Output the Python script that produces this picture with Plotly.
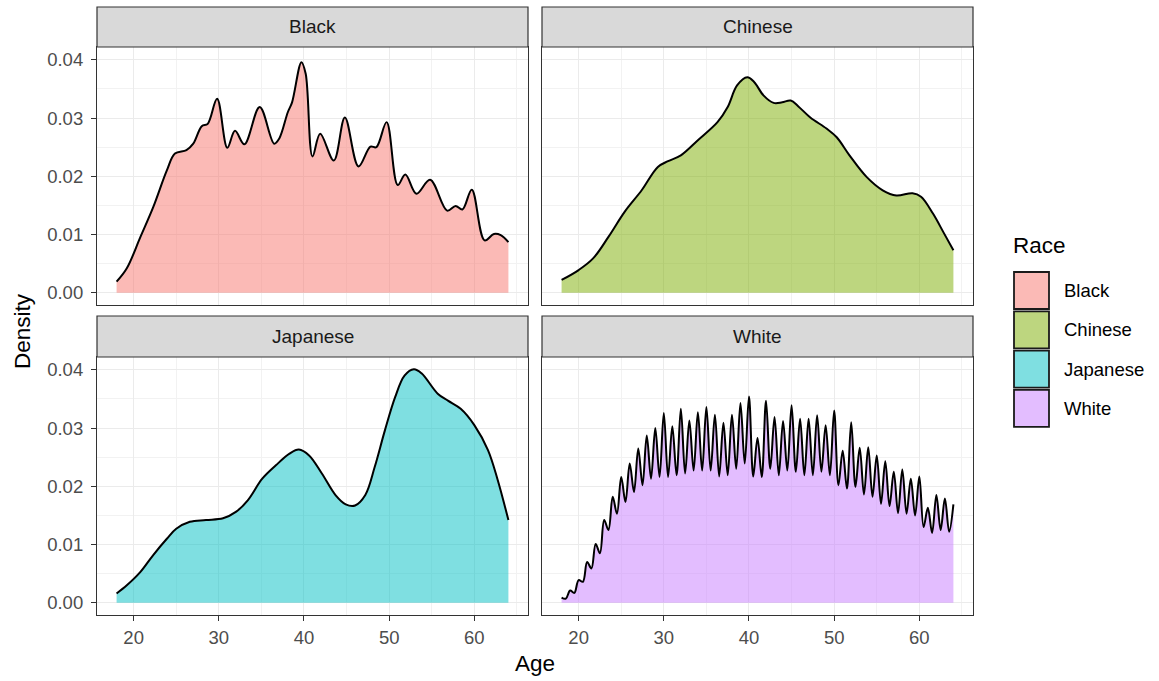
import plotly.graph_objects as go

# ---------------- data ----------------
races = ["Black", "Chinese", "Japanese", "White"]
race_colors = ["#F8766D", "#7CAE00", "#00BFC4", "#C77CFF"]

black_age = [18, 19.2, 20.8, 22.3, 23.9, 24.85, 26.2, 27, 28, 28.7, 29.8, 31, 31.9, 33,
             34.8, 36.5, 37.1, 38.1, 38.6, 39.7, 40.2, 41, 41.9, 43.5, 44.8, 46.4, 47.8,
             48.5, 49.7, 51, 51.9, 53.2, 54.8, 56.8, 57.8, 58.6, 59.7, 61.2, 62.3, 63.1, 64]
black_density = [0.0019, 0.0042, 0.0096, 0.0147, 0.0210, 0.0239, 0.0245, 0.0256, 0.0286,
                 0.0290, 0.0333, 0.0249, 0.0278, 0.0255, 0.0319, 0.0256, 0.0265, 0.0310,
                 0.0327, 0.0396, 0.0376, 0.0234, 0.0273, 0.0227, 0.0301, 0.0217, 0.0251,
                 0.0250, 0.0293, 0.0185, 0.0203, 0.0170, 0.0194, 0.0141, 0.0149, 0.0143,
                 0.0177, 0.0090, 0.0101, 0.0099, 0.0087]

chinese_age = [18, 20, 21.7, 23.5, 25.4, 27.4, 29.3, 30.5, 32, 34, 36.3, 37.5, 38.6, 39.8,
               40.6, 41.7, 42.9, 43.9, 44.9, 45.8, 47.2, 49.1, 50.3, 51.8, 53.8, 55.7, 57.3,
               59.2, 60.2, 61.6, 62.9, 64]
chinese_density = [0.0022, 0.0039, 0.0059, 0.0096, 0.0139, 0.0176, 0.0216, 0.0226, 0.0236,
                   0.0262, 0.0293, 0.0319, 0.0356, 0.0370, 0.0362, 0.0339, 0.0326, 0.0327,
                   0.0330, 0.0320, 0.0301, 0.0282, 0.0267, 0.0236, 0.0199, 0.0176, 0.0167,
                   0.0171, 0.0165, 0.0136, 0.0102, 0.0073]

japanese_age = [18, 19.2, 20.8, 22.3, 23.9, 25, 26.6, 28.5, 30.5, 32, 33.4, 35.1, 36.7, 38.3,
                39.4, 40.6, 42.1, 43.7, 44.9, 46, 47.2, 48.3, 49.5, 50.7, 51.8, 52.9, 53.8,
                55.7, 56.9, 58.4, 60, 61.6, 62.7, 64]
japanese_density = [0.0016, 0.0030, 0.0053, 0.0082, 0.0110, 0.0127, 0.0139, 0.0142, 0.0145,
                    0.0156, 0.0176, 0.0213, 0.0236, 0.0256, 0.0263, 0.0253, 0.0222, 0.0185,
                    0.0169, 0.0167, 0.0185, 0.0233, 0.0296, 0.0353, 0.0390, 0.0401, 0.0394,
                    0.0359, 0.0347, 0.0333, 0.0305, 0.0262, 0.0213, 0.0142]

white_age = [18, 18.5, 19, 19.5, 20, 20.5, 21, 21.5, 22, 22.5, 23, 23.5, 24, 24.5, 25, 25.5,
             26, 26.5, 27, 27.5, 28, 28.5, 29, 29.5, 30, 30.5, 31, 31.5, 32, 32.5, 33, 33.5,
             34, 34.5, 35, 35.5, 36, 36.5, 37, 37.5, 38, 38.5, 39, 39.5, 40, 40.5, 41, 41.5,
             42, 42.5, 43, 43.5, 44, 44.5, 45, 45.5, 46, 46.5, 47, 47.5, 48, 48.5, 49, 49.5,
             50, 50.5, 51, 51.5, 52, 52.5, 53, 53.5, 54, 54.5, 55, 55.5, 56, 56.5, 57, 57.5,
             58, 58.5, 59, 59.5, 60, 60.5, 61, 61.5, 62, 62.5, 63, 63.5, 64]
white_density = [0.0009, 0.0007, 0.0021, 0.0017, 0.0039, 0.0036, 0.0070, 0.0059, 0.0101,
                 0.0085, 0.0142, 0.0125, 0.0182, 0.0153, 0.0216, 0.0173, 0.0239, 0.0190,
                 0.0265, 0.0202, 0.0287, 0.0213, 0.0300, 0.0216, 0.0326, 0.0216, 0.0303,
                 0.0219, 0.0333, 0.0222, 0.0313, 0.0227, 0.0327, 0.0227, 0.0336, 0.0227,
                 0.0323, 0.0217, 0.0309, 0.0219, 0.0323, 0.0230, 0.0343, 0.0239, 0.0354,
                 0.0217, 0.0283, 0.0216, 0.0347, 0.0230, 0.0319, 0.0219, 0.0312, 0.0227,
                 0.0339, 0.0225, 0.0316, 0.0219, 0.0316, 0.0219, 0.0322, 0.0225, 0.0305,
                 0.0219, 0.0330, 0.0202, 0.0261, 0.0196, 0.0310, 0.0199, 0.0266, 0.0186,
                 0.0267, 0.0182, 0.0253, 0.0170, 0.0243, 0.0166, 0.0225, 0.0154, 0.0229,
                 0.0153, 0.0213, 0.0150, 0.0217, 0.0130, 0.0163, 0.0120, 0.0185, 0.0125,
                 0.0179, 0.0122, 0.0169]

x_ticks = [20, 30, 40, 50, 60]
y_ticks = [0.00, 0.01, 0.02, 0.03, 0.04]
x_title = "Age"
y_title = "Density"
legend_title = "Race"

# ---------------- layout helpers ----------------
W, H = 1159, 681
FONT = "Liberation Sans, Arial, sans-serif"


def px(x):
    return x / W


def py(y):
    return 1 - y / H


def rgba(hx, a):
    hx = hx.lstrip("#")
    r, g, b = int(hx[0:2], 16), int(hx[2:4], 16), int(hx[4:6], 16)
    return f"rgba({r},{g},{b},{a})"


# panel boxes in pixels: (left, right, top, bottom, strip top)
panels = [
    (97, 528, 47, 305, 7),
    (542, 973, 47, 305, 7),
    (97, 528, 357, 615, 316),
    (542, 973, 357, 615, 316),
]
series = [
    (black_age, black_density),
    (chinese_age, chinese_density),
    (japanese_age, japanese_density),
    (white_age, white_density),
]

fig = go.Figure()
shapes = []
annotations = []

for i, (race, col, (ages, dens), box) in enumerate(zip(races, race_colors, series, panels)):
    ax = "" if i == 0 else str(i + 1)
    fig.add_trace(go.Scatter(
        x=ages, y=dens, xaxis="x" + ax, yaxis="y" + ax,
        mode="lines", fill="tozeroy", fillcolor=rgba(col, 0.5),
        line=dict(color="black", width=2, shape="spline", smoothing=1.0),
        showlegend=False, hoverinfo="skip",
    ))
    l, r, t, b, st = box
    bottom_row = i >= 2
    left_col = i % 2 == 0
    fig.layout["xaxis" + ax] = dict(
        domain=[px(l), px(r)], anchor="y" + ax, range=[15.7, 66.3],
        tickvals=x_ticks, showticklabels=bottom_row, ticks="outside" if bottom_row else "",
        ticklen=5, tickwidth=1.2, tickcolor="#333333", ticklabelstandoff=1,
        tickfont=dict(family=FONT, size=18.5, color="#4D4D4D"),
        showgrid=True, gridcolor="#EBEBEB", gridwidth=1.4,
        minor=dict(tickvals=[15, 25, 35, 45, 55, 65], showgrid=True, gridcolor="#F2F2F2", gridwidth=0.8),
        showline=True, linecolor="#333333", linewidth=1.2, mirror=True, zeroline=False,
    )
    fig.layout["yaxis" + ax] = dict(
        domain=[py(b), py(t)], anchor="x" + ax, range=[-0.0021, 0.0422],
        tickvals=y_ticks, tickformat=".2f", showticklabels=left_col,
        ticks="outside" if left_col else "", ticklen=5, tickwidth=1.2, tickcolor="#333333",
        ticklabelstandoff=4,
        tickfont=dict(family=FONT, size=18.5, color="#4D4D4D"),
        showgrid=True, gridcolor="#EBEBEB", gridwidth=1.4,
        minor=dict(tickvals=[0.005, 0.015, 0.025, 0.035], showgrid=True, gridcolor="#F2F2F2", gridwidth=0.8),
        showline=True, linecolor="#333333", linewidth=1.2, mirror=True, zeroline=False,
    )
    # facet strip
    shapes.append(dict(type="rect", xref="paper", yref="paper",
                       x0=px(l), x1=px(r), y0=py(t), y1=py(st),
                       fillcolor="#D9D9D9", line=dict(color="#333333", width=1.2), layer="above"))
    annotations.append(dict(text=race, xref="paper", yref="paper",
                            x=px((l + r) / 2), y=py((t + st) / 2), xanchor="center", yanchor="middle",
                            showarrow=False, font=dict(family=FONT, size=19, color="#1A1A1A")))

# axis titles
annotations.append(dict(text=x_title, xref="paper", yref="paper", x=px(535), y=py(663),
                        xanchor="center", yanchor="middle", showarrow=False,
                        font=dict(family=FONT, size=22.5, color="black")))
annotations.append(dict(text=y_title, xref="paper", yref="paper", x=px(22), y=py(331),
                        xanchor="center", yanchor="middle", showarrow=False, textangle=-90,
                        font=dict(family=FONT, size=22.5, color="black")))

# legend (drawn as keys + labels)
annotations.append(dict(text=legend_title, xref="paper", yref="paper", x=px(1011), y=py(246),
                        xanchor="left", yanchor="middle", showarrow=False,
                        font=dict(family=FONT, size=22.5, color="black")))
for k, (race, col) in enumerate(zip(races, race_colors)):
    top = 272 + k * 39.3
    shapes.append(dict(type="rect", xref="paper", yref="paper",
                       x0=px(1014), x1=px(1049), y0=py(top + 37), y1=py(top),
                       fillcolor=rgba(col, 0.5), line=dict(color="#1A1A1A", width=1.8)))
    annotations.append(dict(text=race, xref="paper", yref="paper", x=px(1062), y=py(top + 18.5),
                            xanchor="left", yanchor="middle", showarrow=False,
                            font=dict(family=FONT, size=18.5, color="black")))

fig.update_layout(
    width=W, height=H, margin=dict(l=0, r=0, t=0, b=0),
    paper_bgcolor="white", plot_bgcolor="white",
    shapes=shapes, annotations=annotations, showlegend=False,
    font=dict(family=FONT),
)

fig.write_html("out.html", config={"displayModeBar": False},
               post_script="document.body.style.margin='0';document.body.style.padding='0';")
